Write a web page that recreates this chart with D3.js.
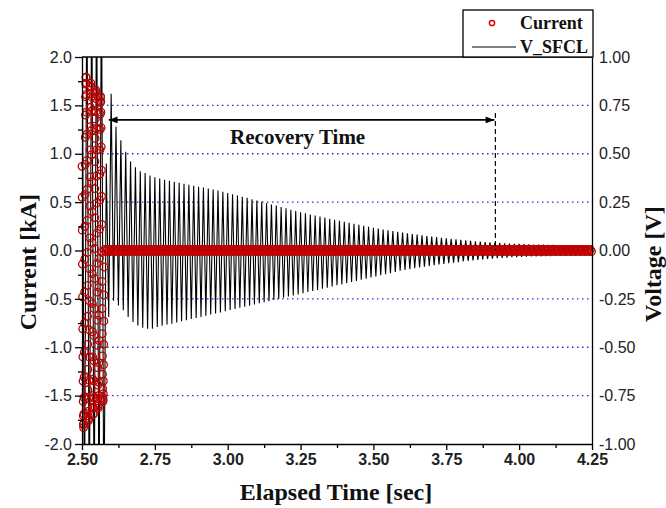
<!DOCTYPE html>
<html>
<head>
<meta charset="utf-8">
<script src="https://cdn.jsdelivr.net/npm/d3@7"></script>
<style>
  body { margin: 0; background: #fff; }
  .axis text { font-family: "Liberation Sans", Arial, sans-serif; fill: #222; }
  .axis path, .axis line { stroke: #000; stroke-width: 1.3; }
  .title { font-family: "Liberation Serif", "Times New Roman", serif; font-weight: bold; fill: #111; }
</style>
</head>
<body>
<svg id="chart"></svg>
<script>
// tick labels
const timeTicks = [2.50, 2.75, 3.00, 3.25, 3.50, 3.75, 4.00, 4.25];
const currentTicks = [-2.0, -1.5, -1.0, -0.5, 0.0, 0.5, 1.0, 1.5, 2.0];
const voltageTicks = [-1.00, -0.75, -0.50, -0.25, 0.00, 0.25, 0.50, 0.75, 1.00];

// fault current in kA, one sample per 0.5 ms from 2.500 s
const faultStart = 2.5, faultStep = 0.0005;
const faultCurrent = [
  0.87, 0.55, 0.21, -0.14, -0.48, -0.81, -1.10, -1.35, -1.56, -1.71,
  -1.80, -1.83, -1.79, -1.69, -1.52, -1.31, -1.05, -0.75, -0.43, -0.09,
  0.25, 0.58, 0.89, 1.17, 1.40, 1.59, 1.72, 1.79, 1.79, 1.73,
  1.61, 1.43, 1.20, 0.93, 0.63, 0.31, -0.02, -0.36, -0.68, -0.97,
  -1.23, -1.44, -1.61, -1.71, -1.76, -1.74, -1.66, -1.53, -1.34, -1.10,
  -0.82, -0.52, -0.19, 0.13, 0.46, 0.76, 1.04, 1.28, 1.48, 1.62,
  1.70, 1.73, 1.69, 1.59, 1.44, 1.24, 0.99, 0.71, 0.40, 0.08,
  -0.24, -0.55, -0.84, -1.10, -1.33, -1.50, -1.62, -1.69, -1.69, -1.63,
  -1.52, -1.35, -1.14, -0.88, -0.60, -0.29, 0.02, 0.34, 0.64, 0.92,
  1.16, 1.36, 1.52, 1.62, 1.66, 1.64, 1.57, 1.44, 1.26, 1.04,
  0.77, 0.49, 0.18, -0.13, -0.43, -0.72, -0.98, -1.21, -1.39, -1.53,
  -1.61, -1.63, -1.59, -1.50, -1.36, -1.16, -0.93, -0.67, -0.38, -0.08,
  0.22, 0.52, 0.79, 1.04, 1.25, 1.41, 1.53, 1.59, 1.59, 1.54,
  1.43, 1.27, 1.07, 0.83, 0.56, 0.27, -0.02, -0.32, -0.60, -0.86,
  -1.09, -1.28, -1.43, -1.52, -1.56, -1.54, -1.48, -1.35, -1.18, -0.97,
  -0.73, -0.46, -0.17
];

// residual current in kA after the fault is cleared, one sample per quarter cycle
const tailStart = 2.5775, tailStep = 1 / 240;
const tailCurrent = [
  0.01, -0.01, 0.01, -0.01, 0.01, -0.01, 0.01, -0.01, 0.01, -0.01, 0.01, -0.01, 0.01, -0.01, 0.01, -0.01, 0.01, -0.01, 0.01, -0.01,
  0.01, -0.01, 0.01, -0.01, 0.01, -0.01, 0.01, -0.01, 0.01, -0.01, 0.01, -0.01, 0.01, -0.01, 0.01, -0.01, 0.01, -0.01, 0.01, -0.01,
  0.01, -0.01, 0.01, -0.01, 0.01, -0.01, 0.01, -0.01, 0.01, -0.01, 0.01, -0.01, 0.01, -0.01, 0.01, -0.01, 0.01, -0.01, 0.01, -0.01,
  0.01, -0.01, 0.01, -0.01, 0.01, -0.01, 0.01, -0.01, 0.01, -0.01, 0.01, -0.01, 0.01, -0.01, 0.01, -0.01, 0.01, -0.01, 0.01, -0.01,
  0.01, -0.01, 0.01, -0.01, 0.01, -0.01, 0.01, -0.01, 0.01, -0.01, 0.01, -0.01, 0.01, -0.01, 0.01, -0.01, 0.01, -0.01, 0.01, -0.01,
  0.01, -0.01, 0.01, -0.01, 0.01, -0.01, 0.01, -0.01, 0.01, -0.01, 0.01, -0.01, 0.01, -0.01, 0.01, -0.01, 0.01, -0.01, 0.01, -0.01,
  0.01, -0.01, 0.01, -0.01, 0.01, -0.01, 0.01, -0.01, 0.01, -0.01, 0.01, -0.01, 0.01, -0.01, 0.01, -0.01, 0.01, -0.01, 0.01, -0.01,
  0.01, -0.01, 0.01, -0.01, 0.01, -0.01, 0.01, -0.01, 0.01, -0.01, 0.01, -0.01, 0.01, -0.01, 0.01, -0.01, 0.01, -0.01, 0.01, -0.01,
  0.01, -0.01, 0.01, -0.01, 0.01, -0.01, 0.01, -0.01, 0.01, -0.01, 0.01, -0.01, 0.01, -0.01, 0.01, -0.01, 0.01, -0.01, 0.01, -0.01,
  0.01, -0.01, 0.01, -0.01, 0.01, -0.01, 0.01, -0.01, 0.01, -0.01, 0.01, -0.01, 0.01, -0.01, 0.01, -0.01, 0.01, -0.01, 0.01, -0.01,
  0.01, -0.01, 0.01, -0.01, 0.01, -0.01, 0.01, -0.01, 0.01, -0.01, 0.01, -0.01, 0.01, -0.01, 0.01, -0.01, 0.01, -0.01, 0.01, -0.01,
  0.01, -0.01, 0.01, -0.01, 0.01, -0.01, 0.01, -0.01, 0.01, -0.01, 0.01, -0.01, 0.01, -0.01, 0.01, -0.01, 0.01, -0.01, 0.01, -0.01,
  0.01, -0.01, 0.01, -0.01, 0.01, -0.01, 0.01, -0.01, 0.01, -0.01, 0.01, -0.01, 0.01, -0.01, 0.01, -0.01, 0.01, -0.01, 0.01, -0.01,
  0.01, -0.01, 0.01, -0.01, 0.01, -0.01, 0.01, -0.01, 0.01, -0.01, 0.01, -0.01, 0.01, -0.01, 0.01, -0.01, 0.01, -0.01, 0.01, -0.01,
  0.01, -0.01, 0.01, -0.01, 0.01, -0.01, 0.01, -0.01, 0.01, -0.01, 0.01, -0.01, 0.01, -0.01, 0.01, -0.01, 0.01, -0.01, 0.01, -0.01,
  0.01, -0.01, 0.01, -0.01, 0.01, -0.01, 0.01, -0.01, 0.01, -0.01, 0.01, -0.01, 0.01, -0.01, 0.01, -0.01, 0.01, -0.01, 0.01, -0.01,
  0.01, -0.01, 0.01, -0.01, 0.01, -0.01, 0.01, -0.01, 0.01, -0.01, 0.01, -0.01, 0.01, -0.01, 0.01, -0.01, 0.01, -0.01, 0.01, -0.01,
  0.01, -0.01, 0.01, -0.01, 0.01, -0.01, 0.01, -0.01, 0.01, -0.01, 0.01, -0.01, 0.01, -0.01, 0.01, -0.01, 0.01, -0.01, 0.01, -0.01,
  0.01, -0.01, 0.01, -0.01, 0.01, -0.01, 0.01, -0.01, 0.01, -0.01, 0.01, -0.01, 0.01, -0.01, 0.01, -0.01, 0.01, -0.01, 0.01, -0.01,
  0.01, -0.01, 0.01, -0.01, 0.01, -0.01, 0.01, -0.01, 0.01, -0.01, 0.01, -0.01, 0.01, -0.01, 0.01, -0.01, 0.01, -0.01, 0.01, -0.01,
  0.01, -0.01
];

// V_SFCL peak and trough of every 60 Hz cycle from 2.50 s, in V (the first ones are off scale)
const cycleStart = 2.5, cycle = 1 / 60, halfCycle = 1 / 120;
const voltPeaks = [
  1.5, 1.5, 1.5, 1.5, 1.5,
  0.45, 0.81, 0.64, 0.57, 0.51, 0.46, 0.43, 0.41, 0.40, 0.387,
  0.378, 0.372, 0.366, 0.36, 0.355, 0.35, 0.345, 0.34, 0.335, 0.33,
  0.326, 0.32, 0.315, 0.31, 0.303, 0.297, 0.29, 0.284, 0.278, 0.272,
  0.265, 0.258, 0.252, 0.245, 0.238, 0.232, 0.225, 0.218, 0.211, 0.204,
  0.197, 0.192, 0.186, 0.181, 0.175, 0.17, 0.164, 0.159, 0.154, 0.148,
  0.143, 0.138, 0.133, 0.128, 0.123, 0.118, 0.113, 0.109, 0.105, 0.101,
  0.097, 0.093, 0.089, 0.085, 0.082, 0.078, 0.075, 0.072, 0.069, 0.066,
  0.063, 0.06, 0.058, 0.055, 0.053, 0.05, 0.048, 0.046, 0.044, 0.042,
  0.04, 0.039, 0.037, 0.036, 0.035, 0.034, 0.033, 0.032, 0.031, 0.03,
  0.03, 0.029, 0.029, 0.028, 0.028, 0.027, 0.027, 0.027, 0.026, 0.026, 0.026
];
const voltTroughs = [
  -1.5, -1.5, -1.5, -1.5, -1.5,
  -0.344, -0.26, -0.284, -0.309, -0.344, -0.37, -0.387, -0.399, -0.404, -0.404,
  -0.395, -0.389, -0.383, -0.378, -0.372, -0.366, -0.36, -0.354, -0.349, -0.343,
  -0.337, -0.331, -0.325, -0.32, -0.314, -0.308, -0.302, -0.296, -0.291, -0.285,
  -0.279, -0.273, -0.267, -0.262, -0.256, -0.25, -0.244, -0.238, -0.233, -0.227,
  -0.221, -0.215, -0.209, -0.204, -0.198, -0.192, -0.186, -0.18, -0.175, -0.169,
  -0.163, -0.157, -0.151, -0.146, -0.14, -0.134, -0.128, -0.122, -0.117, -0.111,
  -0.105, -0.101, -0.097, -0.092, -0.088, -0.084, -0.08, -0.076, -0.072, -0.069,
  -0.066, -0.063, -0.06, -0.057, -0.054, -0.051, -0.049, -0.046, -0.044, -0.042,
  -0.04, -0.038, -0.037, -0.035, -0.034, -0.033, -0.032, -0.031, -0.03, -0.03,
  -0.029, -0.029, -0.028, -0.028, -0.027, -0.027, -0.027, -0.026, -0.026, -0.026, -0.026
];

// recovery time annotation (time in s, level in kA)
const recoveryFrom = 2.592, recoveryTo = 3.915, recoveryLevel = 1.35, recoveryTop = 1.42;

const width = 666, height = 508;
const plotLeft = 82, plotRight = 592, plotTop = 57, plotBottom = 444;

const svg = d3.select("#chart").attr("width", width).attr("height", height);

const x = d3.scaleLinear().domain([2.5, 4.25]).range([plotLeft, plotRight]);
const yI = d3.scaleLinear().domain([-2, 2]).range([plotBottom, plotTop]);
const yV = d3.scaleLinear().domain([-1, 1]).range([plotBottom, plotTop]);

svg.append("defs").append("clipPath").attr("id", "plot")
  .append("rect").attr("x", plotLeft).attr("y", plotTop)
  .attr("width", plotRight - plotLeft).attr("height", plotBottom - plotTop);

// dotted blue grid
svg.append("g").selectAll("line")
  .data(currentTicks.filter(d => Math.abs(d) < 2))
  .join("line")
  .attr("x1", plotLeft).attr("x2", plotRight)
  .attr("y1", d => yI(d)).attr("y2", d => yI(d))
  .attr("stroke", "#2a2ad8").attr("stroke-width", 1.4)
  .attr("stroke-dasharray", "1.5,3.5");

// voltage trace: peak, trough, peak ...
const volt = [];
voltPeaks.forEach((p, c) => {
  volt.push([cycleStart + c * cycle, p]);
  volt.push([cycleStart + c * cycle + halfCycle, voltTroughs[c]]);
});

svg.append("path")
  .datum(volt)
  .attr("clip-path", "url(#plot)")
  .attr("fill", "none")
  .attr("stroke", "#000")
  .attr("stroke-width", 1.1)
  .attr("d", d3.line().x(d => x(d[0])).y(d => yV(d[1])));

// current samples
const current = faultCurrent.map((v, i) => [faultStart + i * faultStep, v])
  .concat(tailCurrent.map((v, i) => [tailStart + i * tailStep, v]))
  .filter(d => d[0] <= 4.25);

svg.append("g").selectAll("circle")
  .data(current)
  .join("circle")
  .attr("cx", d => x(d[0]))
  .attr("cy", d => yI(d[1]))
  .attr("r", 3.8)
  .attr("fill", "none")
  .attr("stroke", "#c00000")
  .attr("stroke-width", 1.3);

// recovery time arrow
svg.append("defs").append("marker")
  .attr("id", "head")
  .attr("viewBox", "0 0 10 8")
  .attr("refX", 10).attr("refY", 4)
  .attr("markerWidth", 10).attr("markerHeight", 7)
  .attr("markerUnits", "userSpaceOnUse")
  .attr("orient", "auto-start-reverse")
  .append("path").attr("d", "M0,0L10,4L0,8Z").attr("fill", "#000");

svg.append("line")
  .attr("x1", x(recoveryFrom)).attr("x2", x(recoveryTo))
  .attr("y1", yI(recoveryLevel)).attr("y2", yI(recoveryLevel))
  .attr("stroke", "#000").attr("stroke-width", 1.6)
  .attr("marker-start", "url(#head)").attr("marker-end", "url(#head)");

svg.append("line")
  .attr("x1", x(recoveryTo) + 1).attr("x2", x(recoveryTo) + 1)
  .attr("y1", yI(recoveryTop)).attr("y2", yI(0))
  .attr("stroke", "#000").attr("stroke-width", 1.2)
  .attr("stroke-dasharray", "5,3");

svg.append("text").attr("class", "title")
  .attr("x", x(3.24)).attr("y", yI(1.10))
  .attr("text-anchor", "middle").attr("font-size", 21)
  .text("Recovery Time");

// axes
const fmt1 = d => d.toFixed(1), fmt2 = d => d.toFixed(2);

const leftAxis = svg.append("g").attr("class", "axis")
  .attr("transform", `translate(${plotLeft},0)`)
  .call(d3.axisLeft(yI).tickValues(currentTicks).tickFormat(fmt1).tickSize(7).tickSizeOuter(0).tickPadding(3));
leftAxis.selectAll("text").attr("font-size", 16);
svg.append("g").attr("class", "axis")
  .attr("transform", `translate(${plotLeft},0)`)
  .call(d3.axisLeft(yI).tickValues(currentTicks.slice(1).map(d => d - 0.25)).tickFormat("").tickSize(4).tickSizeOuter(0))
  .select(".domain").remove();

const bottomAxis = svg.append("g").attr("class", "axis")
  .attr("transform", `translate(0,${plotBottom})`)
  .call(d3.axisBottom(x).tickValues(timeTicks).tickFormat(fmt2).tickSize(6).tickSizeOuter(0).tickPadding(4));
bottomAxis.selectAll("text").attr("font-size", 16).attr("font-weight", "bold").attr("fill", "#111");
svg.append("g").attr("class", "axis")
  .attr("transform", `translate(0,${plotBottom})`)
  .call(d3.axisBottom(x).tickValues(timeTicks.slice(1).map(d => d - 0.125)).tickFormat("").tickSize(4).tickSizeOuter(0))
  .select(".domain").remove();

const rightAxis = svg.append("g").attr("class", "axis")
  .attr("transform", `translate(${plotRight},0)`)
  .call(d3.axisRight(yV).tickValues(voltageTicks).tickFormat(fmt2).tickSize(0).tickSizeOuter(0).tickPadding(7));
rightAxis.selectAll("text").attr("font-size", 16);

// top frame
svg.append("line")
  .attr("x1", plotLeft).attr("x2", plotRight).attr("y1", plotTop).attr("y2", plotTop)
  .attr("stroke", "#000").attr("stroke-width", 1.3);

// axis titles
svg.append("text").attr("class", "title")
  .attr("transform", `translate(36,${yI(-0.12)}) rotate(-90)`)
  .attr("text-anchor", "middle").attr("font-size", 24)
  .text("Current [kA]");
svg.append("text").attr("class", "title")
  .attr("transform", `translate(661,${yV(-0.07)}) rotate(-90)`)
  .attr("text-anchor", "middle").attr("font-size", 24)
  .text("Voltage [V]");
svg.append("text").attr("class", "title")
  .attr("x", 336).attr("y", 500)
  .attr("text-anchor", "middle").attr("font-size", 24)
  .text("Elapsed Time [sec]");

// legend
const legend = svg.append("g");
legend.append("rect")
  .attr("x", 463).attr("y", 10).attr("width", 130).attr("height", plotTop - 10)
  .attr("fill", "#fff").attr("stroke", "#000").attr("stroke-width", 1.3);
legend.append("circle")
  .attr("cx", 492).attr("cy", 23).attr("r", 2.6)
  .attr("fill", "none").attr("stroke", "#e00000").attr("stroke-width", 1.5);
legend.append("line")
  .attr("x1", 472).attr("x2", 516).attr("y1", 47).attr("y2", 47)
  .attr("stroke", "#000").attr("stroke-width", 1);
legend.append("text").attr("class", "title")
  .attr("x", 520).attr("y", 29).attr("font-size", 18).text("Current");
legend.append("text").attr("class", "title")
  .attr("x", 520).attr("y", 53).attr("font-size", 18).text("V_SFCL");
</script>
</body>
</html>
